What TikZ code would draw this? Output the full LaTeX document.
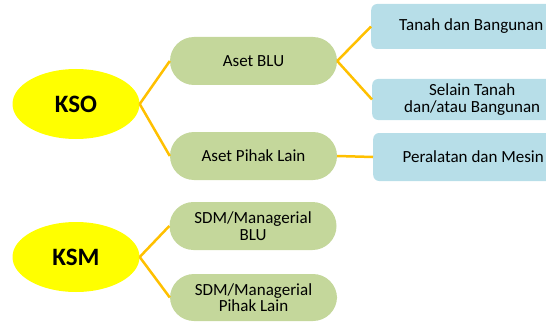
\documentclass[tikz,border=0pt]{standalone}
\usepackage{fontspec}
\setmainfont{Carlito}
\usetikzlibrary{shapes.geometric}
\definecolor{kuning}{RGB}{255,255,0}
\definecolor{oranye}{RGB}{255,192,0}
\definecolor{hijau}{RGB}{196,215,155}
\definecolor{biru}{RGB}{183,222,232}
\tikzset {x=1pt,y=1pt,
  pokok/.style={ellipse,fill=kuning,minimum width=127pt,minimum height=70pt,
    inner sep=0pt,font=\fontsize{25}{27}\selectfont\bfseries},
  cabang/.style={rounded corners=24pt,fill=hijau,minimum width=167pt,minimum height=48pt,
    inner sep=0pt,align=center,font=\fontsize{17}{16.5}\selectfont},
  ranting/.style={rounded corners=6pt,fill=biru,minimum width=200pt,
    inner sep=0pt,align=center,anchor=west,font=\fontsize{17}{16.5}\selectfont},
  garis/.style={draw=oranye,line width=2.5pt}}

\begin{document}
\begin{tikzpicture}
\useasboundingbox (0,0) rectangle (546,322);
\begin{scope}
\clip (0,0) rectangle (546,322);
\node[pokok] (kso) at (76,218) {KSO};
\node[pokok] (ksm) at (76,65) {KSM};
\node[cabang] (asetblu) at (253.5,261) {Aset BLU};
\node[cabang] (asetlain) at (253.5,166) {Aset Pihak Lain};
\node[cabang] (sdmblu) at (253,96) {SDM/Managerial\\BLU};
\node[cabang,minimum height=47pt] (sdmlain) at (253.5,24.5) {SDM/Managerial\\Pihak Lain};
\node[ranting,minimum height=45pt] (tanah) at (371,295.5) {Tanah dan Bangunan};
\node[ranting,minimum height=41pt] (selain) at (372,222.5) {Selain Tanah\\dan/atau Bangunan};
\node[ranting,minimum height=48pt] (alat) at (373,165) {Peralatan dan Mesin};
\draw[garis] (kso.east) -- (asetblu.west);
\draw[garis] (kso.east) -- (asetlain.west);
\draw[garis] (ksm.east) -- (sdmblu.west);
\draw[garis] (ksm.east) -- (sdmlain.west);
\draw[garis] (asetblu.east) -- (tanah.west);
\draw[garis] (asetblu.east) -- (selain.west);
\draw[garis] (asetlain.east) -- (alat.west);
\end{scope}
\end{tikzpicture}
\end{document}
